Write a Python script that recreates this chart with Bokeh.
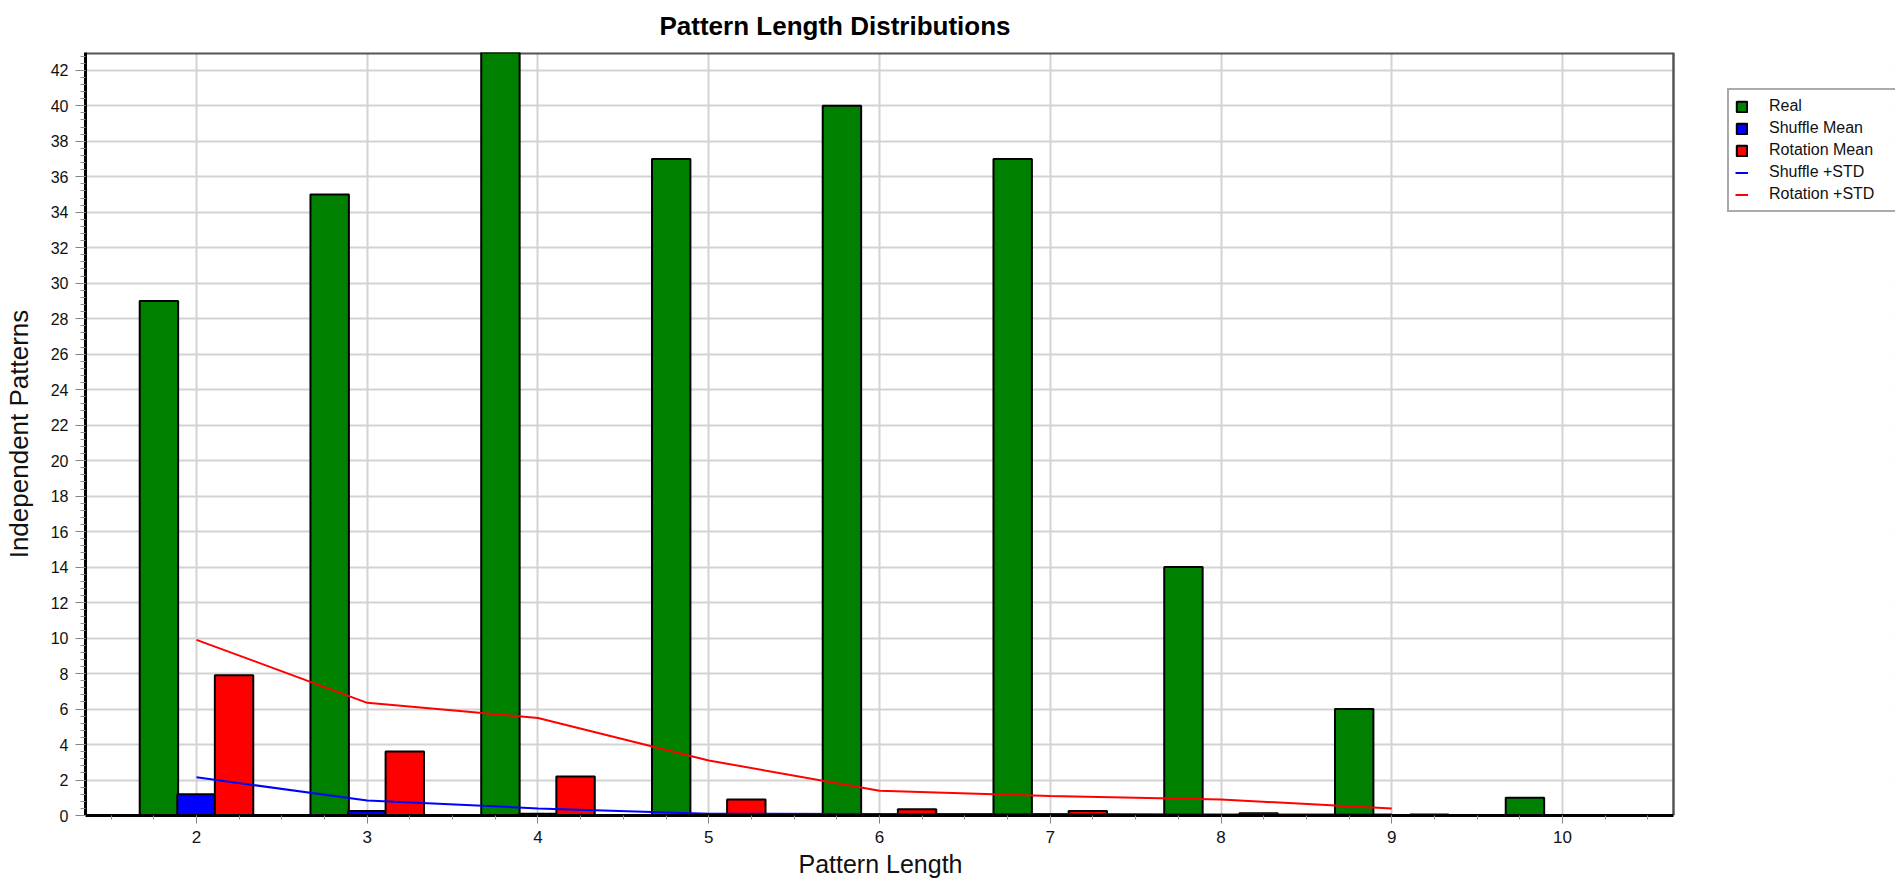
from bokeh.plotting import figure
from bokeh.models import Range1d, FixedTicker, Legend, LegendItem, ColumnDataSource, Title
from bokeh.transform import dodge
from bokeh.embed import file_html
from bokeh.resources import INLINE

# ---- data ----
pattern_length = [2, 3, 4, 5, 6, 7, 8, 9, 10]
real = [29, 35, 43, 37, 40, 37, 14, 6, 1]
shuffle_mean = [1.2, 0.25, 0.1, 0.03, 0.01, 0.0, 0.0, 0.0, 0.0]
rotation_mean = [7.9, 3.6, 2.2, 0.9, 0.35, 0.25, 0.12, 0.05, 0.0]
std_length = [2, 3, 4, 5, 6, 7, 8, 9]
shuffle_std = [2.15, 0.85, 0.4, 0.1, 0.08, 0.08, 0.06, 0.05]
rotation_std = [9.9, 6.35, 5.5, 3.1, 1.4, 1.1, 0.9, 0.4]
x_ticks = [2, 3, 4, 5, 6, 7, 8, 9, 10]
y_ticks = list(range(0, 43, 2))

FONT = "Liberation Sans"

# plot area (data units) and frame geometry
x_start, x_end = 1.35, 10.65
y_start, y_end = 0, 43
PLOT_W = 1588           # pixel width of the plotted box
FRAME_W = 1810          # frame also hosts the legend on the right
FRAME_H = 763
ext_end = x_start + (x_end - x_start) * FRAME_W / PLOT_W

bars = ColumnDataSource(dict(x=pattern_length, real=real,
                             shuffle=shuffle_mean, rotation=rotation_mean))
lines = ColumnDataSource(dict(x=std_length, shuffle=shuffle_std, rotation=rotation_std))

p = figure(frame_width=FRAME_W, frame_height=FRAME_H, output_backend="svg",
           toolbar_location=None,
           x_range=Range1d(x_start, ext_end), y_range=Range1d(y_start, y_end),
           min_border_left=80, min_border_right=1, min_border_top=51,
           min_border_bottom=60, background_fill_color="white",
           border_fill_color="white")

# title
p.title.text = "Pattern Length Distributions"
p.title.text_font = FONT
p.title.text_font_size = "26px"
p.title.text_font_style = "bold"
p.title.align = "left"
p.title.offset = 574
p.title.vertical_align = "top"
p.title.standoff = 20
p.title.text_color = "black"

# grid
for g in (p.xgrid, p.ygrid):
    g.grid_line_color = "#d3d3d3"
    g.grid_line_width = 2

p.outline_line_color = None

# axes
p.xaxis.ticker = FixedTicker(ticks=x_ticks, minor_ticks=[1.5 + 0.25 * i for i in range(37)])
p.yaxis.ticker = FixedTicker(ticks=y_ticks, minor_ticks=[0.4 * i for i in range(108)])
p.xaxis.bounds = (x_start, x_end)
for ax in (p.xaxis, p.yaxis):
    ax.axis_line_color = "black"
    ax.axis_line_width = 3
    ax.major_tick_line_color = "#808080"
    ax.minor_tick_line_color = "#909090"
    ax.major_tick_line_width = 1
    ax.minor_tick_line_width = 1
    ax.major_tick_in = 0
    ax.minor_tick_in = 0
    ax.major_label_text_font = FONT
    ax.major_label_text_color = "#111111"
    ax.axis_label_text_font = FONT
    ax.axis_label_text_font_style = "normal"
    ax.axis_label_text_color = "#111111"

p.xaxis.major_tick_out = 8
p.xaxis.minor_tick_out = 4
p.xaxis.major_label_text_font_size = "17px"
p.xaxis.major_label_standoff = 7

# x-axis title centred under the plotted box (not under the legend area)
p.add_layout(Title(text="Pattern Length", text_font=FONT, text_font_size="25px",
                   text_font_style="normal", text_color="#111111",
                   align="left", offset=713, standoff=4), "below")

p.yaxis.major_tick_out = 10
p.yaxis.minor_tick_out = 5
p.yaxis.major_label_text_font_size = "16px"
p.yaxis.major_label_standoff = 7
p.yaxis.axis_label = "Independent Patterns"
p.yaxis.axis_label_text_font_size = "26px"
p.yaxis.axis_label_standoff = 14

# white panel to the right of the plotted box (hides grid lines behind the legend)
p.quad(left=[x_end], right=[ext_end], bottom=[y_start], top=[y_end],
       fill_color="white", line_color=None)
# top and right border of the plotted box
p.segment(x0=[x_start], y0=[y_end], x1=[x_end], y1=[y_end],
          line_color="#555555", line_width=4)
p.segment(x0=[x_end], y0=[y_start], x1=[x_end], y1=[y_end],
          line_color="#555555", line_width=2.5)

W = 0.225
r_real = p.vbar(x=dodge("x", -0.22, range=p.x_range), top="real", width=W, bottom=0,
                source=bars, fill_color="#008000", line_color="black", line_width=2)
r_shuf = p.vbar(x=dodge("x", 0.0, range=p.x_range), top="shuffle", width=W, bottom=0,
                source=bars, fill_color="#0000ff", line_color="black", line_width=2)
r_rot = p.vbar(x=dodge("x", 0.22, range=p.x_range), top="rotation", width=W, bottom=0,
               source=bars, fill_color="#ff0000", line_color="black", line_width=2)
l_shuf = p.line(x="x", y="shuffle", source=lines, line_color="#0000ff", line_width=2)
l_rot = p.line(x="x", y="rotation", source=lines, line_color="#ff0000", line_width=2)

legend = Legend(items=[
    LegendItem(label="Real", renderers=[r_real]),
    LegendItem(label="Shuffle Mean", renderers=[r_shuf]),
    LegendItem(label="Rotation Mean", renderers=[r_rot]),
    LegendItem(label="Shuffle +STD", renderers=[l_shuf]),
    LegendItem(label="Rotation +STD", renderers=[l_rot]),
], location=(1642, 603), margin=0, padding=6, spacing=2, label_height=20,
    label_width=121, glyph_height=13, glyph_width=13, label_standoff=21,
    label_text_font=FONT, label_text_font_size="16px", label_text_color="#111111",
    border_line_color="#555555", border_line_width=2, background_fill_color="white")
p.add_layout(legend)

open("out.html", "w").write(file_html(p, INLINE))
